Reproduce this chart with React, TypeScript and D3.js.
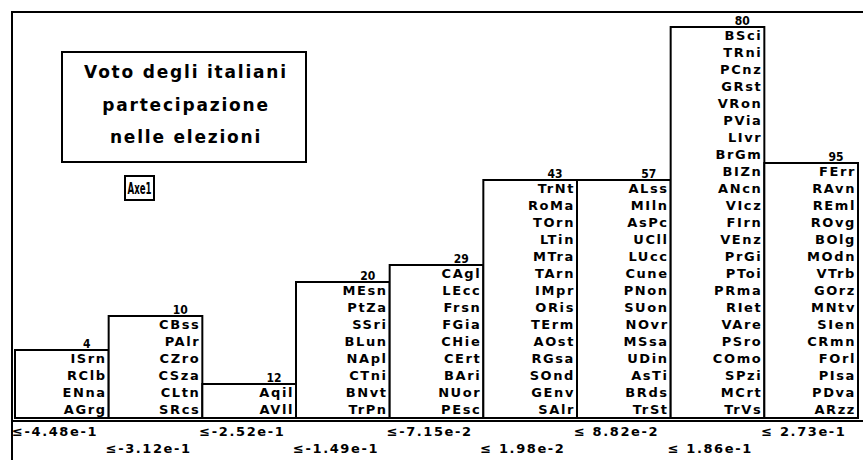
import React, { useEffect, useRef } from "react";
import * as d3 from "d3";

// upper bound of each class (x axis)
const binLabels = [
  "≤-4.48e-1",
  "≤-3.12e-1",
  "≤-2.52e-1",
  "≤-1.49e-1",
  "≤-7.15e-2",
  "≤ 1.98e-2",
  "≤ 8.82e-2",
  "≤ 1.86e-1",
  "≤ 2.73e-1",
];

// cumulative count written above each bar
const cumCounts = [4, 10, 12, 20, 29, 43, 57, 80, 95];

// provinces in each class, top to bottom
const members: string[][] = [
  ["ISrn", "RClb", "ENna", "AGrg"],
  ["CBss", "PAlr", "CZro", "CSza", "CLtn", "SRcs"],
  ["Aqil", "AVll"],
  ["MEsn", "PtZa", "SSri", "BLun", "NApl", "CTni", "BNvt", "TrPn"],
  ["CAgl", "LEcc", "Frsn", "FGia", "CHie", "CErt", "BAri", "NUor", "PEsc"],
  ["TrNt", "RoMa", "TOrn", "LTin", "MTra", "TArn", "IMpr", "ORis", "TErm", "AOst", "RGsa", "SOnd", "GEnv", "SAlr"],
  ["ALss", "MIln", "AsPc", "UCll", "LUcc", "Cune", "PNon", "SUon", "NOvr", "MSsa", "UDin", "AsTi", "BRds", "TrSt"],
  ["BSci", "TRni", "PCnz", "GRst", "VRon", "PVia", "LIvr", "BrGm", "BIZn", "ANcn", "VIcz", "FIrn", "VEnz", "PrGi", "PToi", "PRma", "RIet", "VAre", "PSro", "COmo", "SPzi", "MCrt", "TrVs"],
  ["FErr", "RAvn", "REml", "ROvg", "BOlg", "MOdn", "VTrb", "GOrz", "MNtv", "SIen", "CRmn", "FOrl", "PIsa", "PDva", "ARzz"],
];

const titleLines = ["Voto degli italiani", "partecipazione", "nelle elezioni"];
const axisName = "Axe1";

const App: React.FC = () => {
  const svgRef = useRef<SVGSVGElement | null>(null);

  useEffect(() => {
    if (!svgRef.current) return;
    const width = 863;
    const height = 460;
    const svg = d3.select(svgRef.current);
    svg.selectAll("*").remove();

    const font = "'DejaVu Sans', sans-serif";

    svg.append("rect").attr("width", width).attr("height", height).attr("fill", "white");

    const x = d3
      .scaleBand<number>()
      .domain(d3.range(binLabels.length))
      .range([15, 858])
      .padding(0);

    const maxN = d3.max(members, (m) => m.length) || 1;
    const y = d3.scaleLinear().domain([0, maxN]).range([418, 27]);
    const rowH = y(0) - y(1);

    // frame
    svg
      .append("path")
      .attr("d", `M12,${height} V12 H${width}`)
      .attr("fill", "none")
      .attr("stroke", "black")
      .attr("stroke-width", 2);
    svg
      .append("line")
      .attr("x1", 12)
      .attr("x2", width)
      .attr("y1", 421)
      .attr("y2", 421)
      .attr("stroke", "black")
      .attr("stroke-width", 2);

    // bars
    const bars = svg
      .selectAll("g.bar")
      .data(members)
      .join("g")
      .attr("class", "bar");

    bars
      .append("rect")
      .attr("x", (_, i) => x(i) || 0)
      .attr("y", (d) => y(d.length))
      .attr("width", x.bandwidth())
      .attr("height", (d) => y(0) - y(d.length))
      .attr("fill", "white")
      .attr("stroke", "black")
      .attr("stroke-width", 2);

    bars
      .append("text")
      .attr("x", (_, i) => (x(i) || 0) + x.bandwidth() - 22)
      .attr("y", (d) => y(d.length) - 2)
      .attr("text-anchor", "middle")
      .attr("font-family", "'DejaVu Sans Condensed', 'DejaVu Sans', sans-serif")
      .attr("font-weight", "bold")
      .attr("font-size", 12)
      .text((_, i) => String(cumCounts[i]));

    bars.each(function (d, i) {
      const g = d3.select(this);
      g.selectAll("text.name")
        .data(d)
        .join("text")
        .attr("class", "name")
        .attr("x", (x(i) || 0) + x.bandwidth() - 2)
        .attr("y", (_, j) => y(d.length) + j * rowH + 13)
        .attr("text-anchor", "end")
        .attr("font-family", font)
        .attr("font-weight", "bold")
        .attr("font-size", 13)
        .attr("letter-spacing", 1.6)
        .text((n) => n);
    });

    // x labels, staggered in two rows
    svg
      .selectAll("text.xlab")
      .data(binLabels)
      .join("text")
      .attr("class", "xlab")
      .attr("x", (_, i) => (x(i) || 0) - 3)
      .attr("y", (_, i) => (i % 2 === 0 ? 436 : 453))
      .attr("font-family", font)
      .attr("font-weight", "bold")
      .attr("font-size", 13)
      .attr("letter-spacing", 1.6)
      .text((t) => t);

    // title box
    svg
      .append("rect")
      .attr("x", 62)
      .attr("y", 52)
      .attr("width", 244)
      .attr("height", 110)
      .attr("fill", "white")
      .attr("stroke", "black")
      .attr("stroke-width", 2);
    svg
      .selectAll("text.title")
      .data(titleLines)
      .join("text")
      .attr("class", "title")
      .attr("x", 186)
      .attr("y", (_, i) => 78 + i * 32.5)
      .attr("text-anchor", "middle")
      .attr("font-family", font)
      .attr("font-weight", "bold")
      .attr("font-size", 17)
      .attr("letter-spacing", 1.8)
      .text((t) => t);

    // axis name box
    svg
      .append("rect")
      .attr("x", 125)
      .attr("y", 176)
      .attr("width", 29)
      .attr("height", 24)
      .attr("fill", "white")
      .attr("stroke", "black")
      .attr("stroke-width", 2);
    svg
      .append("text")
      .attr("x", 127.5)
      .attr("y", 194)
      .attr("font-family", font)
      .attr("font-weight", "bold")
      .attr("font-size", 16)
      .attr("textLength", 24)
      .attr("lengthAdjust", "spacingAndGlyphs")
      .text(axisName);
  }, []);

  return (
    <svg
      ref={svgRef}
      width={863}
      height={460}
      style={{ position: "absolute", left: 0, top: 0, display: "block" }}
    />
  );
};

export default App;
